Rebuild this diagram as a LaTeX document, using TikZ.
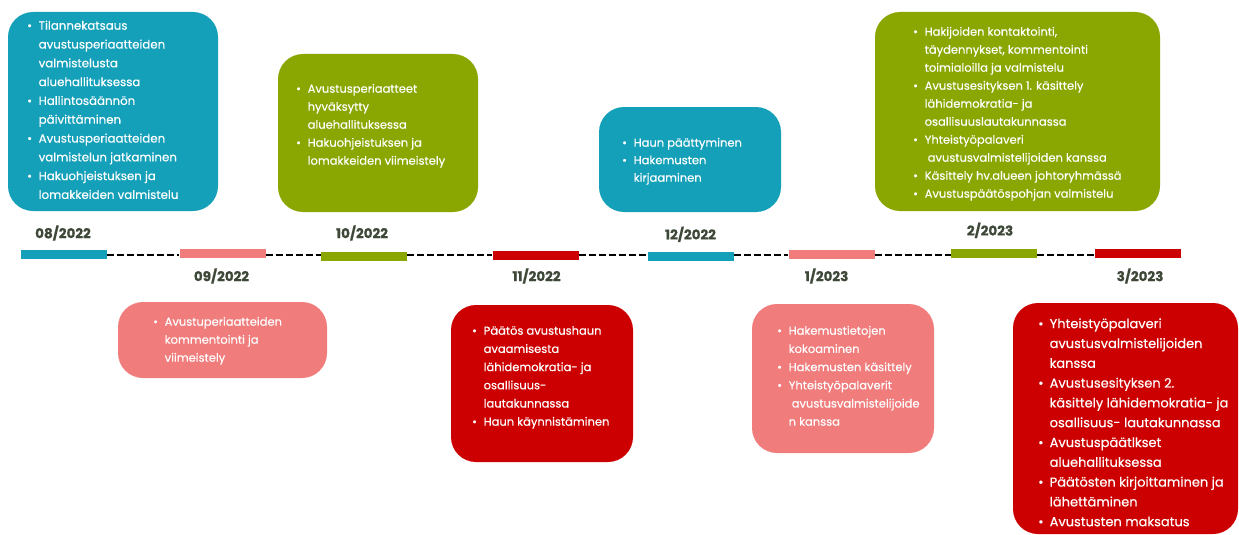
\documentclass[tikz,border=0pt]{standalone}
\usepackage{fontspec}
\setmainfont{Poppins}[UprightFeatures={FakeBold=0.35}, BoldFeatures={FakeBold=0.8}]
\definecolor{cteal}{RGB}{21,160,185}
\definecolor{cgreen}{RGB}{138,166,0}
\definecolor{cpink}{RGB}{240,124,124}
\definecolor{cred}{RGB}{204,0,0}
\definecolor{clabel}{RGB}{62,72,56}
\newcommand{\bul}{\makebox[11.5pt][l]{•}}
\newcommand{\ind}{\hspace*{11.5pt}}
\newcommand{\fst}{\rule{0pt}{12pt}}
\tikzset{
  box/.style={rounded corners=25pt, inner sep=0pt, draw=none, fill=#1},
  bar/.style={minimum width=86pt, minimum height=9pt, inner sep=0pt, fill=#1},
  txt/.style={anchor=north west, inner sep=0pt, align=left, text=white, font=\fontsize{11.5}{18}\selectfont},
  lbl/.style={inner sep=0pt, text=clabel, font=\fontsize{13.5}{14}\selectfont\bfseries},
  tl/.style={draw=black, line width=2pt, dash pattern=on 7pt off 3pt}
}
\begin{document}
\begin{tikzpicture}[x=1pt,y=-1pt]
\useasboundingbox (0,0) rectangle (1239,535);
% boxes
\node[box=cteal, minimum width=210pt, minimum height=199pt] (box1) at (113,111.5) {};
\node[box=cgreen, minimum width=200pt, minimum height=158pt] (box3) at (378,133) {};
\node[box=cteal, minimum width=182pt, minimum height=105pt] (box5) at (690,159.5) {};
\node[box=cgreen, minimum width=285pt, minimum height=199pt] (box7) at (1017.5,111.5) {};
\node[box=cpink, minimum width=209pt, minimum height=76pt] (box2) at (222.5,340) {};
\node[box=cred, minimum width=182pt, minimum height=157pt] (box4) at (542,383.5) {};
\node[box=cpink, minimum width=182pt, minimum height=149pt] (box6) at (843,378.5) {};
\node[box=cred, minimum width=225pt, minimum height=231pt] (box8) at (1125.5,418.5) {};
% texts
\node[txt, font=\fontsize{11.8}{18.8}\selectfont] (t1) at (27,17.5) {\fst\bul Tilannekatsaus\\
\ind avustusperiaatteiden\\ \ind valmistelusta\\ \ind aluehallituksessa\\
\bul Hallintosäännön\\ \ind päivittäminen\\
\bul Avustusperiaatteiden\\ \ind valmistelun jatkaminen\\
\bul Hakuohjeistuksen ja\\ \ind lomakkeiden valmistelu};
\node[txt] (t3) at (296,80.5) {\fst\bul Avustusperiaatteet\\ \ind hyväksytty\\ \ind aluehallituksessa\\
\bul Hakuohjeistuksen ja\\ \ind lomakkeiden viimeistely};
\node[txt, font=\fontsize{11.5}{17.5}\selectfont] (t5) at (622,134.5) {\fst\bul Haun päättyminen\\ \bul Hakemusten\\ \ind kirjaaminen};
\node[txt] (t7) at (913,23.5) {\fst\bul Hakijoiden kontaktointi,\\ \ind täydennykset, kommentointi\\ \ind toimialoilla ja valmistelu\\
\bul Avustusesityksen 1. käsittely\\ \ind lähidemokratia- ja\\ \ind osallisuuslautakunnassa\\
\bul Yhteistyöpalaveri\\ \ind\ avustusvalmistelijoiden kanssa\\
\bul Käsittely hv.alueen johtoryhmässä\\
\bul Avustuspäätöspohjan valmistelu};
\node[txt] (t2) at (153,313.5) {\fst\bul Avustuperiaatteiden\\ \ind kommentointi ja\\ \ind viimeistely};
\node[txt, font=\fontsize{11.5}{18.2}\selectfont] (t4) at (472,322.5) {\fst\bul Päätös avustushaun\\ \ind avaamisesta\\ \ind lähidemokratia- ja\\ \ind osallisuus-\\ \ind lautakunnassa\\
\bul Haun käynnistäminen};
\node[txt, font=\fontsize{11.5}{18.2}\selectfont] (t6) at (777,322.5) {\fst\bul Hakemustietojen\\ \ind kokoaminen\\
\bul Hakemusten käsittely\\
\bul Yhteistyöpalaverit\\ \ind\ avustusvalmistelijoide\\ \ind n kanssa};
\node[txt, font=\fontsize{13}{19.8}\selectfont] (t8) at (1038,315) {\rule{0pt}{13pt}\bul Yhteistyöpalaveri\\ \ind avustusvalmistelijoiden\\ \ind kanssa\\
\bul Avustusesityksen 2.\\ \ind käsittely lähidemokratia- ja\\ \ind osallisuus- lautakunnassa\\
\bul Avustuspäätlkset\\ \ind aluehallituksessa\\
\bul Päätösten kirjoittaminen ja\\ \ind lähettäminen\\
\bul Avustusten maksatus};
% timeline bars
\node[bar=cteal] (b1) at (63.5,254.5) {};
\node[bar=cpink] (b2) at (222.5,253.2) {};
\node[bar=cgreen] (b3) at (364,256.3) {};
\node[bar=cred] (b4) at (535.5,255.5) {};
\node[bar=cteal] (b5) at (690.5,256.3) {};
\node[bar=cpink] (b6) at (831.5,254.7) {};
\node[bar=cgreen] (b7) at (994,253.9) {};
\node[bar=cred] (b8) at (1137.5,253.9) {};
% dashed timeline between bars, at one height
\coordinate (tly) at (0,255.2);
\draw[tl] (b1.east |- tly) -- (b2.west |- tly);
\draw[tl] (b2.east |- tly) -- (b3.west |- tly);
\draw[tl] (b3.east |- tly) -- (b4.west |- tly);
\draw[tl] (b4.east |- tly) -- (b5.west |- tly);
\draw[tl] (b5.east |- tly) -- (b6.west |- tly);
\draw[tl] (b6.east |- tly) -- (b7.west |- tly);
\draw[tl] (b7.east |- tly) -- (b8.west |- tly);
% labels
\node[lbl] (l1) at (63,233) {08/2022};
\node[lbl] (l2) at (221.5,276) {09/2022};
\node[lbl] (l3) at (362,233) {10/2022};
\node[lbl] (l4) at (536.5,276) {11/2022};
\node[lbl] (l5) at (690.5,234.3) {12/2022};
\node[lbl] (l6) at (826.5,276) {1/2023};
\node[lbl] (l7) at (990,230.4) {2/2023};
\node[lbl] (l8) at (1140,276) {3/2023};
\end{tikzpicture}
\end{document}
